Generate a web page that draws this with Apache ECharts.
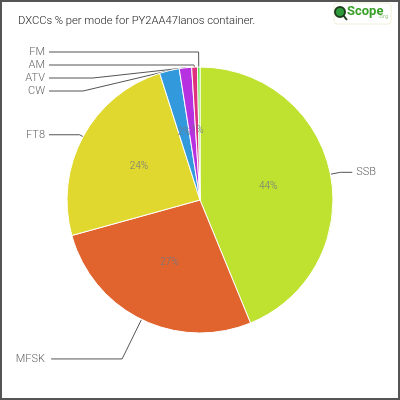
<!DOCTYPE html>
<html>
<head>
<meta charset="utf-8">
<script src="https://cdn.jsdelivr.net/npm/echarts@6/dist/echarts.min.js"></script>
<style>
html,body{margin:0;padding:0;background:#fff;}
#chart{width:400px;height:400px;}
</style>
</head>
<body>
<div id="chart"></div>
<script>
const titleText = 'DXCCs % per mode for PY2AA47lanos container.';
const modes = ['SSB', 'MFSK', 'FT8', 'CW', 'ATV', 'AM', 'FM'];
const shares = [43.8, 26.9, 24.4, 2.4, 1.5, 0.7, 0.3];
const colors = ['#bfe231', '#e1642f', '#e0d72f', '#3399dd', '#b631e0', '#e0317c', '#55e040'];

const labelFont = 'Roboto, "Liberation Sans", sans-serif';
const itemLabelOverrides = {
  SSB: { label: { alignTo: 'none', formatter: '{b}' }, labelLine: { length: 10, length2: 12 } },
  MFSK: { labelLine: { length: 44 } },
  FT8: { labelLine: { length: 4 } }
};

const innerData = modes.map((m, i) => ({ name: m, value: shares[i], itemStyle: { color: colors[i] } }));
const outerData = modes.map((m, i) => Object.assign({ name: m, value: shares[i] }, itemLabelOverrides[m] || {}));

const chart = echarts.init(document.getElementById('chart'));
chart.setOption({
  animation: false,
  backgroundColor: '#ffffff',
  title: {
    text: titleText, left: 13, top: 11,
    textStyle: { fontFamily: labelFont, fontSize: 11.2, fontWeight: 300, color: '#222' }
  },
  graphic: [
    { type: 'rect', shape: { x: 1, y: 1, width: 398, height: 398 }, style: { fill: 'none', stroke: '#555', lineWidth: 2 }, silent: true },
    { type: 'rect', shape: { x: 334, y: 3, width: 57, height: 21, r: 3 }, style: { fill: '#fff', stroke: '#eef0d8', lineWidth: 1 }, silent: true },
    { type: 'circle', shape: { cx: 340, cy: 12, r: 5 }, style: { fill: '#2f9a3a', stroke: '#1c3d1c', lineWidth: 2 }, silent: true },
    { type: 'line', shape: { x1: 343, y1: 15, x2: 347, y2: 20 }, style: { stroke: '#1c3d1c', lineWidth: 2 }, silent: true },
    { type: 'text', left: 347, top: 5, style: { text: 'Scope', fontFamily: labelFont, fontSize: 13, fontWeight: 'bold', fill: '#3aa02a' }, silent: true },
    { type: 'text', left: 378, top: 13, style: { text: '.org', fontFamily: labelFont, fontSize: 6, fill: '#9cc88a' }, silent: true }
  ],
  series: [
    {
      type: 'pie',
      center: [200, 200],
      radius: [0, 133],
      startAngle: 90,
      clockwise: true,
      silent: true,
      emphasis: { disabled: true },
      itemStyle: { borderColor: '#fff', borderWidth: 1 },
      label: {
        position: 'inside',
        formatter: p => Math.round(p.percent) + '%',
        fontFamily: labelFont, fontSize: 10, fontWeight: 300, color: '#6f7780'
      },
      labelLine: { show: false },
      data: innerData
    },
    {
      type: 'pie',
      center: [200, 200],
      radius: [0, 133],
      startAngle: 90,
      clockwise: true,
      silent: true,
      emphasis: { disabled: true },
      itemStyle: { color: 'rgba(0,0,0,0)', borderWidth: 0 },
      label: {
        position: 'outside',
        alignTo: 'edge',
        edgeDistance: 18,
        distanceToLabelLine: 4,
        formatter: '{a|{b}}',
        fontFamily: labelFont, fontSize: 11, fontWeight: 300, color: '#666', lineHeight: 8,
        rich: { a: { width: 27, height: 8, align: 'right', lineHeight: 8, fontFamily: labelFont, fontSize: 11, fontWeight: 300, color: '#666' } }
      },
      labelLine: { show: true, length: 15, length2: 4, lineStyle: { color: '#555', width: 1 } },
      data: outerData
    }
  ]
});
</script>
</body>
</html>
